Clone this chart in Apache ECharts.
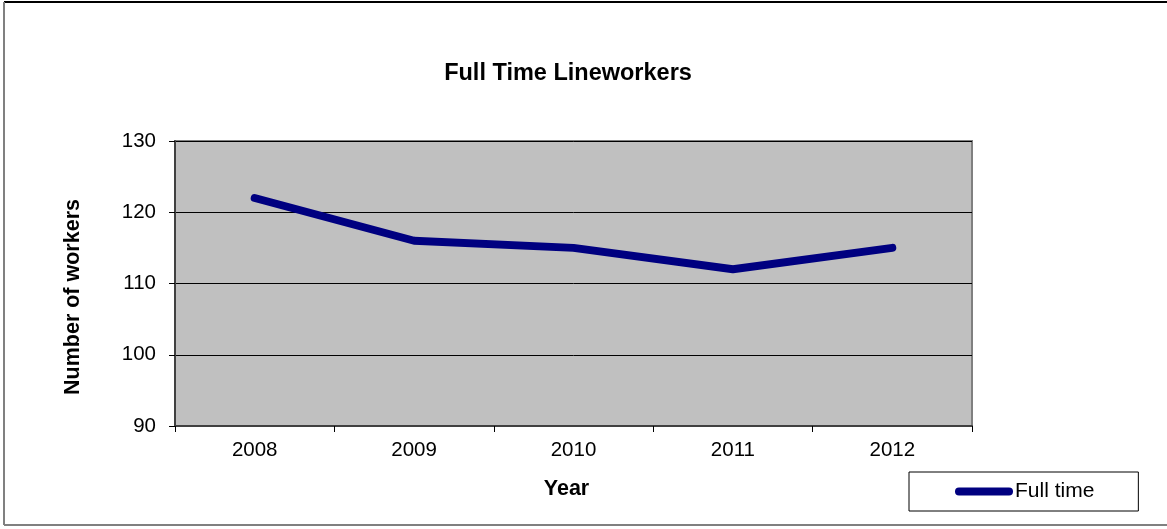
<!DOCTYPE html>
<html>
<head>
<meta charset="utf-8">
<style>
  html, body { margin: 0; padding: 0; background: #fff; }
  #chart { width: 1167px; height: 529px; }
</style>
<script src="https://cdn.jsdelivr.net/npm/echarts@6/dist/echarts.min.js"></script>
</head>
<body>
<div id="chart"></div>
<script>
// Full-time lineworker headcount by year
const years = ['2008', '2009', '2010', '2011', '2012'];
const fullTime = [122, 116, 115, 112, 115];
const yTicks = { min: 90, max: 130, step: 10 };

const FONT = 'Liberation Sans, Arial, sans-serif';
const chart = echarts.init(document.getElementById('chart'), null, { renderer: 'canvas' });

chart.setOption({
  backgroundColor: '#ffffff',
  animation: false,
  title: {
    text: 'Full Time Lineworkers',
    left: 563,
    textAlign: 'center',
    top: 57,
    textStyle: { fontFamily: FONT, fontSize: 23.5, fontWeight: 'bold', color: '#000' }
  },
  graphic: [
    // outer chart frame
    { type: 'line', shape: { x1: 4, y1: 2, x2: 1167, y2: 2 }, style: { stroke: '#000', lineWidth: 2 } },
    { type: 'line', shape: { x1: 4, y1: 2, x2: 4, y2: 525 }, style: { stroke: '#808080', lineWidth: 2 } },
    { type: 'line', shape: { x1: 4, y1: 525, x2: 1167, y2: 525 }, style: { stroke: '#808080', lineWidth: 2 } },
    // y axis title
    {
      type: 'text', x: 73, y: 297, rotation: Math.PI / 2,
      style: {
        text: 'Number of workers', fontFamily: FONT, fontSize: 21.5, fontWeight: 'bold',
        fill: '#000', align: 'center', verticalAlign: 'middle'
      }
    }
  ],
  legend: {
    left: 909,
    top: 472,
    orient: 'horizontal',
    padding: [9, 44, 9, 46],
    backgroundColor: '#fff',
    borderColor: '#000',
    borderWidth: 1,
    borderRadius: 0,
    itemWidth: 58,
    itemHeight: 8,
    icon: 'path://M4,0 H54 A4,4 0 0 1 54,8 H4 A4,4 0 0 1 4,0 Z',
    textStyle: { fontFamily: FONT, fontSize: 21, color: '#000', padding: [0, 0, 0, -3] },
    data: [{ name: 'Full time', itemStyle: { color: '#000080' } }]
  },
  grid: {
    left: 175, top: 141, right: 195, bottom: 103,
    show: true,
    backgroundColor: '#c0c0c0',
    borderColor: '#808080',
    borderWidth: 2
  },
  xAxis: {
    type: 'category',
    data: years,
    boundaryGap: true,
    name: 'Year',
    nameLocation: 'middle',
    nameGap: 52,
    nameTextStyle: { fontFamily: FONT, fontSize: 21.5, fontWeight: 'bold', color: '#000', padding: [0, 14, 0, 0] },
    axisLine: { show: true, lineStyle: { color: '#404040', width: 2 } },
    axisTick: { show: true, alignWithLabel: false, length: 6, lineStyle: { color: '#000', width: 1 } },
    axisLabel: { fontFamily: FONT, fontSize: 20.5, color: '#000', margin: 14 },
    splitLine: { show: false }
  },
  yAxis: {
    type: 'value',
    min: yTicks.min,
    max: yTicks.max,
    interval: yTicks.step,
    axisLine: { show: true, lineStyle: { color: '#404040', width: 2 } },
    axisTick: { show: true, length: 6, lineStyle: { color: '#000', width: 1 } },
    axisLabel: { fontFamily: FONT, fontSize: 20.5, color: '#000', margin: 19 },
    splitLine: { show: true, lineStyle: { color: '#000', width: 1 } }
  },
  series: [{
    name: 'Full time',
    type: 'line',
    data: fullTime,
    symbol: 'none',
    lineStyle: { color: '#000080', width: 8, cap: 'round', join: 'round' },
    itemStyle: { color: '#000080' }
  }]
});
</script>
</body>
</html>
